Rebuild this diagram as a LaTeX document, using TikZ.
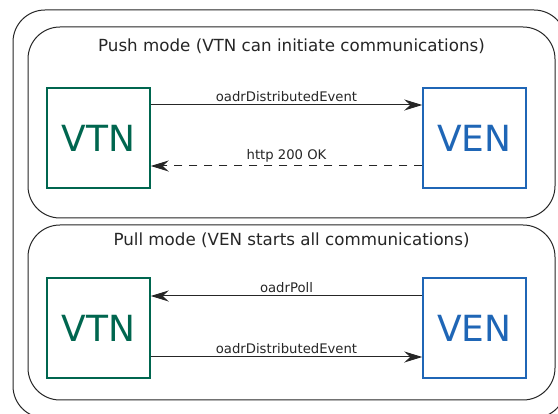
\documentclass[tikz,border=0pt]{standalone}
\usepackage{fontspec}
\setmainfont{DejaVu Sans}
\usetikzlibrary{arrows.meta,positioning}
\definecolor{vtngreen}{HTML}{00664F}
\definecolor{venblue}{HTML}{1F66B6}

\begin{document}
\begin{tikzpicture}[x=1pt, y=-1pt,
    panel/.style = {draw=black!85, line width=1pt, rounded corners=32pt, inner sep=0pt},
    heading/.style = {font=\fontsize{16.7}{18}\selectfont, text=black!85},
    vtn/.style = {draw=vtngreen, line width=1.5pt, text=vtngreen, minimum width=103pt, minimum height=100pt, inner sep=0pt, font=\fontsize{36}{36}\selectfont},
    ven/.style = {draw=venblue, line width=1.5pt, text=venblue, minimum width=103pt, minimum height=100pt, inner sep=0pt, font=\fontsize{36}{36}\selectfont},
    msg/.style = {draw=black!85, line width=1pt, -{Stealth[length=18pt, width=11pt, inset=6pt]}},
    lbl/.style = {above, inner sep=3pt, font=\fontsize{13.2}{15}\selectfont, text=black!85}]
    \fill[white] (0,0) rectangle (558,414);
    \useasboundingbox (0,0) rectangle (558,414);
    % frame and the two modes
    \node [panel, minimum width=553pt, minimum height=408pt] (frame) at (289.5,214) {};
    \node [panel, minimum width=527pt, minimum height=191pt] (push) at (291.5,122.5) {};
    \node [panel, minimum width=527pt, minimum height=175pt] (pull) at (291.5,312.5) {};
    \node [heading] (pushtitle) at ([yshift=-20pt]push.north) {Push mode (VTN can initiate communications)};
    \node [heading] (pulltitle) at ([yshift=-16pt]pull.north) {Pull mode (VEN starts all communications)};
    % push mode
    \node [vtn] (vtnpush) at (98.5,138) {VTN};
    \node [ven] (venpush) at (474.5,138) {VEN};
    \draw [msg] ([yshift=33pt]vtnpush.east) -- node [lbl] {oadrDistributedEvent} ([yshift=33pt]venpush.west);
    \draw [msg, dash pattern=on 8pt off 7pt] ([yshift=-28pt]venpush.west) -- node [lbl] {http 200 OK} ([yshift=-28pt]vtnpush.east);
    % pull mode
    \node [vtn] (vtnpull) at (98.5,328) {VTN};
    \node [ven] (venpull) at (474.5,328) {VEN};
    \draw [msg] ([yshift=32pt]venpull.west) -- node [lbl] {oadrPoll} ([yshift=32pt]vtnpull.east);
    \draw [msg] ([yshift=-29pt]vtnpull.east) -- node [lbl] {oadrDistributedEvent} ([yshift=-29pt]venpull.west);
\end{tikzpicture}
\end{document}
